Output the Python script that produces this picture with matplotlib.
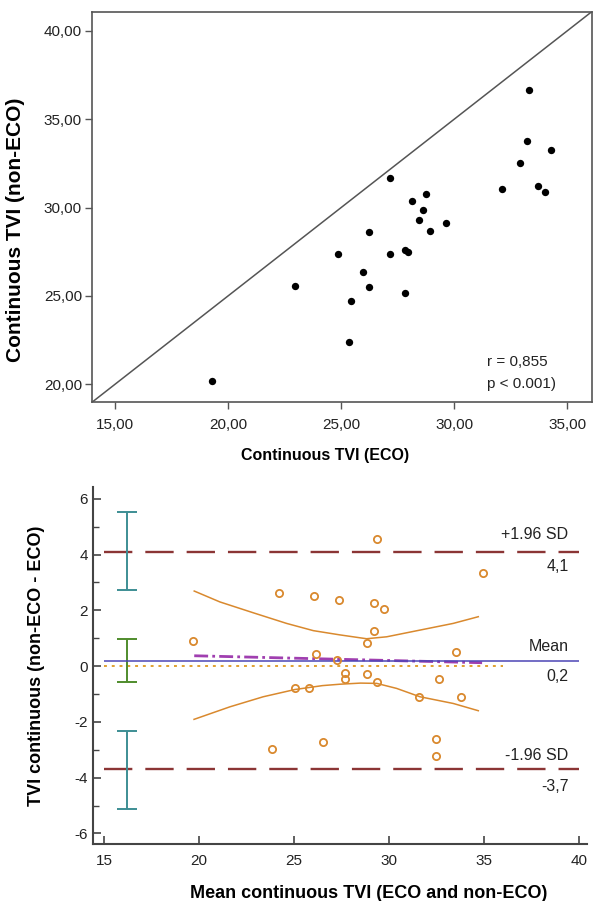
import matplotlib
matplotlib.use("Agg")
import matplotlib.pyplot as plt
import numpy as np

plt.rcParams['font.family'] = ['Liberation Sans', 'DejaVu Sans']
plt.rcParams['axes.unicode_minus'] = False

# ---------------- data: scatter (top) ----------------
eco = [19.29, 22.96, 24.85, 25.44, 25.34, 25.95, 26.23, 26.23, 27.15, 27.15,
       27.84, 27.84, 27.96, 28.14, 28.45, 28.63, 28.73, 28.94, 29.63, 32.13,
       32.91, 33.21, 33.31, 33.72, 34.00, 34.29]
non_eco = [20.21, 25.57, 27.36, 24.69, 22.39, 26.38, 28.59, 25.48, 31.68, 27.36,
           25.18, 27.59, 27.48, 30.38, 29.28, 29.87, 30.77, 28.68, 29.10, 31.07,
           32.49, 33.77, 36.67, 31.19, 30.89, 33.28]
top_ticks = [15, 20, 25, 30, 35]
top_ticklabels = ["15,00", "20,00", "25,00", "30,00", "35,00"]
top_yticks = [20, 25, 30, 35, 40]
top_yticklabels = ["20,00", "25,00", "30,00", "35,00", "40,00"]
stats_text = ["r = 0,855", "p < 0.001)"]

# ---------------- data: Bland-Altman (bottom) ----------------
ba_mean = [19.67, 23.82, 24.21, 25.05, 25.81, 26.07, 26.14, 26.52, 27.35, 27.26,
           27.68, 27.68, 28.82, 28.82, 29.21, 29.21, 29.35, 29.39, 29.75, 31.58,
           32.46, 32.46, 32.65, 33.53, 33.77, 34.96]
ba_diff = [0.91, -2.99, 2.61, -0.79, -0.79, 2.51, 0.42, -2.73, 2.36, 0.21,
           -0.26, -0.48, 0.84, -0.29, 2.25, 1.25, -0.56, 4.56, 2.04, -1.10,
           -2.62, -3.21, -0.48, 0.51, -1.10, 3.34]
mean_diff = 0.2
upper_loa = 4.1
lower_loa = -3.7
ci_x = 16.23
ci_upper_loa = [2.72, 5.53]
ci_mean = [-0.57, 0.98]
ci_lower_loa = [-5.13, -2.32]
reg_x = [19.75, 34.9]
reg_y = [0.37, 0.12]
band_up_x = [19.75, 21.1, 22.86, 24.61, 26.02, 27.4, 28.82, 29.88, 31.63, 33.38, 34.7]
band_up_y = [2.69, 2.30, 1.91, 1.53, 1.27, 1.12, 0.98, 1.05, 1.29, 1.53, 1.77]
band_lo_x = [19.74, 21.63, 23.38, 25.05, 26.5, 27.42, 28.5, 29.35, 30.4, 31.63, 33.38, 34.7]
band_lo_y = [-1.91, -1.46, -1.10, -0.84, -0.70, -0.65, -0.61, -0.62, -0.80, -1.10, -1.34, -1.60]
line_span = [15.0, 40.0]
zero_span = [15.0, 36.0]
ba_xticks = [15, 20, 25, 30, 35, 40]
ba_yticks = [-6, -4, -2, 0, 2, 4, 6]
ba_yminor = [-5, -3, -1, 1, 3, 5]

fig = plt.figure(figsize=(6.01, 9.01), dpi=100)

# ================= TOP: scatter =================
ax1 = fig.add_axes([0.1526, 0.5533, 0.832, 0.4337])
ax1.set_xlim(13.97, 36.08)
ax1.set_ylim(18.98, 41.07)
ax1.plot([0, 1], [0, 1], transform=ax1.transAxes, color='#555555', lw=1.1, zorder=1)
ax1.scatter(eco, non_eco, s=28, color='black', zorder=3, linewidths=0)
ax1.set_xticks(top_ticks)
ax1.set_xticklabels(top_ticklabels)
ax1.set_yticks(top_yticks)
ax1.set_yticklabels(top_yticklabels)
for sp in ax1.spines.values():
    sp.set_color('#555555')
    sp.set_linewidth(1.2)
ax1.tick_params(axis='both', direction='out', length=5, width=1.0, color='#555555',
                labelsize=11, labelcolor='#222222')
ax1.tick_params(axis='x', pad=6)
ax1.tick_params(axis='y', pad=2)
ax1.set_xlabel("Continuous TVI (ECO)", fontsize=11.5, fontweight='bold')
ax1.set_ylabel("Continuous TVI (non-ECO)", fontsize=15, fontweight='bold')
ax1.xaxis.set_label_coords(0.467, -0.116)
ax1.yaxis.set_label_coords(-0.1334, 0.441)
ax1.text(31.47, 21.26, stats_text[0], fontsize=11, va='center', ha='left', color='#222222')
ax1.text(31.47, 20.04, stats_text[1], fontsize=11, va='center', ha='left', color='#222222')

# ================= BOTTOM: Bland-Altman =================
ax2 = fig.add_axes([0.1552, 0.0629, 0.821, 0.3969])
ax2.set_xlim(14.437, 40.405)
ax2.set_ylim(-6.39, 6.43)

orange = '#d9892e'
ax2.hlines([upper_loa, lower_loa], line_span[0], line_span[1], colors='#8b3535',
           linestyles=(0, (12, 5.5)), lw=1.7, zorder=2)
ax2.hlines([mean_diff], line_span[0], line_span[1], colors='#4b45b5', lw=1.1, zorder=4)
ax2.hlines([0], zero_span[0], zero_span[1], colors='#e0a030',
           linestyles=(0, (1.5, 2.5)), lw=1.4, zorder=2)
ax2.plot(reg_x, reg_y, color='#a03fb0', lw=2.0, dashes=(5, 1.5, 1, 1.5), zorder=3)
ax2.plot(band_up_x, band_up_y, color=orange, lw=1.1, zorder=3)
ax2.plot(band_lo_x, band_lo_y, color=orange, lw=1.1, zorder=3)
ax2.plot(ba_mean, ba_diff, linestyle='none', marker='o', markersize=5.2,
         markerfacecolor='none', markeredgecolor=orange, markeredgewidth=1.3, zorder=5)

for ci, col in [(ci_upper_loa, '#3d8e94'), (ci_mean, '#4f8c2c'), (ci_lower_loa, '#3d8e94')]:
    c = (ci[0] + ci[1]) / 2
    ax2.errorbar([ci_x], [c], yerr=[[c - ci[0]], [ci[1] - c]], fmt='none',
                 ecolor=col, elinewidth=1.4, capsize=7, capthick=1.4, zorder=3)

lab_x = 39.45
ax2.text(lab_x, 4.7, "+1.96 SD", ha='right', va='center', fontsize=11.5, color='#222222')
ax2.text(lab_x, 3.58, "4,1", ha='right', va='center', fontsize=11.5, color='#222222')
ax2.text(lab_x, 0.69, "Mean", ha='right', va='center', fontsize=11.5, color='#222222')
ax2.text(lab_x, -0.39, "0,2", ha='right', va='center', fontsize=11.5, color='#222222')
ax2.text(lab_x, -3.21, "-1.96 SD", ha='right', va='center', fontsize=11.5, color='#222222')
ax2.text(lab_x, -4.3, "-3,7", ha='right', va='center', fontsize=11.5, color='#222222')

ax2.spines['top'].set_visible(False)
ax2.spines['right'].set_visible(False)
for s in ['left', 'bottom']:
    ax2.spines[s].set_color('#444444')
    ax2.spines[s].set_linewidth(1.5)
ax2.set_xticks(ba_xticks)
ax2.set_yticks(ba_yticks)
ax2.set_yticks(ba_yminor, minor=True)
ax2.tick_params(axis='both', which='major', direction='in', length=6, width=1.2,
                color='#444444', labelsize=11, labelcolor='#222222')
ax2.tick_params(axis='y', which='minor', direction='in', length=4, width=1.0, color='#444444')
ax2.tick_params(axis='x', pad=7)
ax2.tick_params(axis='y', pad=4)
ax2.set_xlabel("Mean continuous TVI (ECO and non-ECO)", fontsize=13, fontweight='bold')
ax2.set_ylabel("TVI continuous (non-ECO - ECO)", fontsize=13, fontweight='bold')
ax2.xaxis.set_label_coords(0.559, -0.114)
ax2.yaxis.set_label_coords(-0.098, 0.5)

fig.savefig("out.png", dpi=100)
